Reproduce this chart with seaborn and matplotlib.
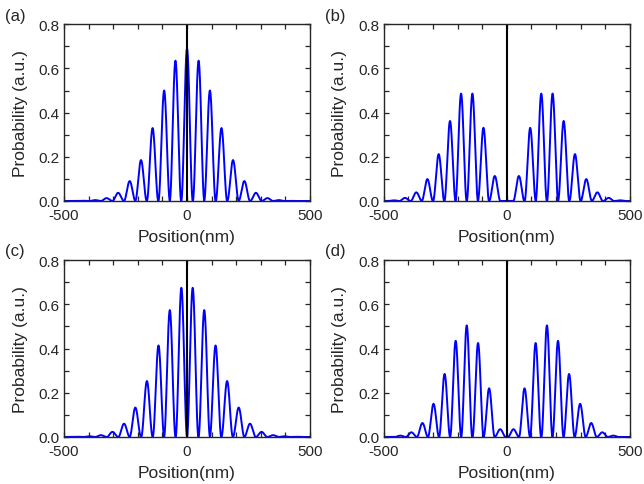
import numpy as np
import pandas as pd
import seaborn as sns
from matplotlib import pyplot as plt

# peak positions (nm, one side) and heights
pos_a = [0, 47, 93, 140, 187, 233, 280, 327, 373, 420]
h_a = [0.69, 0.635, 0.50, 0.33, 0.185, 0.09, 0.037, 0.013, 0.004, 0.001]

pos_b = [49, 95, 140, 186, 231, 277, 323, 368, 414, 460]
h_b = [0.113, 0.331, 0.486, 0.486, 0.362, 0.212, 0.099, 0.039, 0.014, 0.003]

pos_c = [23, 70, 116, 163, 210, 256, 303, 350, 396, 443]
h_c = [0.675, 0.574, 0.414, 0.253, 0.133, 0.060, 0.023, 0.008, 0.003, 0.001]

pos_d = [27, 72, 117, 163, 208, 253, 298, 343, 388, 433]
h_d = [0.035, 0.22, 0.425, 0.505, 0.435, 0.285, 0.15, 0.063, 0.021, 0.006]

panels = ['(a)', '(b)', '(c)', '(d)']


def curve(pos, h):
    # mirror the peaks and draw each as a cos^2 lobe one spacing wide
    pos = np.array(pos, dtype=float)
    h = np.array(h)
    d = np.mean(np.diff(pos))
    if pos[0] == 0:
        p_all = np.concatenate([-pos[:0:-1], pos])
        h_all = np.concatenate([h[:0:-1], h])
    else:
        p_all = np.concatenate([-pos[::-1], pos])
        h_all = np.concatenate([h[::-1], h])
    x = np.linspace(-500, 500, 4001)
    y = np.zeros_like(x)
    for p, hh in zip(p_all, h_all):
        m = np.abs(x - p) < d / 2
        y[m] += hh * np.cos(np.pi * (x[m] - p) / d) ** 2
    return pd.DataFrame({'Position': x, 'Probability': y})


sns.set_style('ticks')
plt.rcParams['font.family'] = ['Liberation Sans', 'DejaVu Sans']

fig, axes = plt.subplots(2, 2, figsize=(6.44, 4.85), dpi=100)
plt.subplots_adjust(left=0.0994, right=0.978, top=0.948, bottom=0.097,
                    wspace=0.30, hspace=0.335)

data = [(pos_a, h_a), (pos_b, h_b), (pos_c, h_c), (pos_d, h_d)]
for ax, (p, h), lab in zip(axes.flat, data, panels):
    df = curve(p, h)
    sns.lineplot(data=df, x='Position', y='Probability', ax=ax,
                 color='#0000ff', lw=1.4)
    ax.axvline(0, color='black', lw=1.5)
    ax.set_xlim(-500, 500)
    ax.set_ylim(0, 0.8)
    ax.set_xticks(np.arange(-500, 501, 100))
    ax.set_xticklabels(['-500', '', '', '', '', '0', '', '', '', '', '500'])
    ax.set_yticks(np.arange(0, 0.81, 0.1))
    ax.set_yticklabels(['0.0', '', '0.2', '', '0.4', '', '0.6', '', '0.8'])
    ax.tick_params(direction='in', top=True, right=True, length=3.5,
                   width=0.9, labelsize=11)
    ax.tick_params(axis='x', pad=5)
    ax.tick_params(axis='y', pad=3)
    ax.set_xlabel('Position(nm)', fontsize=12.5, labelpad=5)
    ax.set_ylabel('Probability (a.u.)', fontsize=12.5, labelpad=8)
    for s in ax.spines.values():
        s.set_linewidth(1.0)

fig.text(0.008, 0.965, '(a)', fontsize=12, va='center')
fig.text(0.505, 0.965, '(b)', fontsize=12, va='center')
fig.text(0.008, 0.482, '(c)', fontsize=12, va='center')
fig.text(0.505, 0.482, '(d)', fontsize=12, va='center')

plt.savefig('out.png', dpi=100)
